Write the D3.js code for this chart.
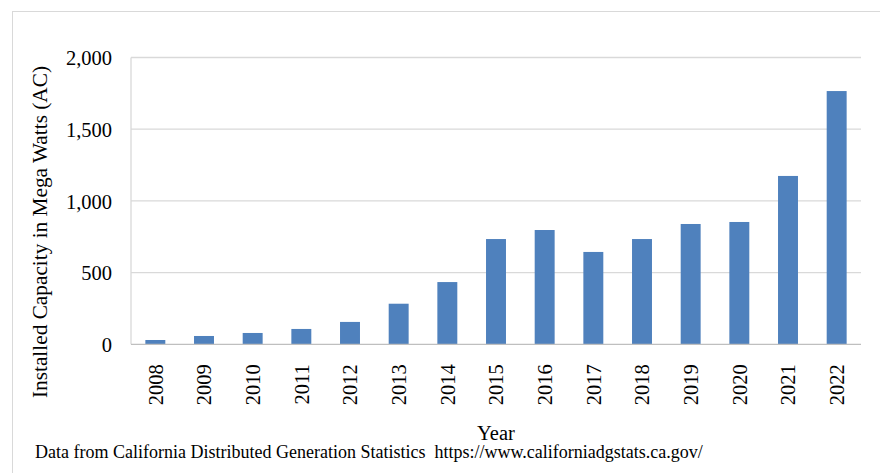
<!DOCTYPE html>
<html>
<head>
<meta charset="utf-8">
<script src="https://cdn.jsdelivr.net/npm/d3@7"></script>
<style>
  html, body { margin: 0; padding: 0; background: #fff; }
  svg { display: block; }
  svg text { font-family: "Liberation Serif", "Times New Roman", serif; }
</style>
</head>
<body>
<svg id="chart" width="880" height="473"></svg>
<script>
// Installed distributed solar capacity by year (MW AC)
const years = ["2008","2009","2010","2011","2012","2013","2014","2015","2016","2017","2018","2019","2020","2021","2022"];
const capacity = [30, 58, 79, 107, 156, 283, 434, 734, 797, 644, 734, 839, 853, 1174, 1766];
const yTicks = [0, 500, 1000, 1500, 2000];

const FONT = "Liberation Serif";
const svg = d3.select("#chart");
const margin = { left: 131, right: 19, top: 57.5, bottom: 128.7 };
const W = 880, H = 473;
const x0 = margin.left, x1 = W - margin.right;
const y0 = H - margin.bottom, y1 = margin.top;

// Chart frame
svg.append("rect")
  .attr("x", 12.5).attr("y", 11.5)
  .attr("width", 900).attr("height", 500)
  .attr("fill", "none").attr("stroke", "#d9d9d9").attr("stroke-width", 1);

const x = d3.scaleBand().domain(years).range([x0, x1]).paddingInner(0.59).paddingOuter(0.295);
const y = d3.scaleLinear().domain([0, 2000]).range([y0, y1]);

// Gridlines
svg.append("g")
  .selectAll("line")
  .data(yTicks.filter(d => d > 0))
  .join("line")
  .attr("x1", x0).attr("x2", x1)
  .attr("y1", d => y(d)).attr("y2", d => y(d))
  .attr("stroke", "#d9d9d9").attr("stroke-width", 1.3);

// Left axis line
svg.append("line")
  .attr("x1", x0).attr("x2", x0)
  .attr("y1", y1).attr("y2", y0)
  .attr("stroke", "#d9d9d9").attr("stroke-width", 1.3);

// Bars
svg.append("g")
  .selectAll("rect")
  .data(years.map((yr, i) => ({ yr, v: capacity[i] })))
  .join("rect")
  .attr("x", d => x(d.yr))
  .attr("width", x.bandwidth())
  .attr("y", d => y(d.v))
  .attr("height", d => y(0) - y(d.v))
  .attr("fill", "#4f81bd");

// Baseline
svg.append("line")
  .attr("x1", x0).attr("x2", x1)
  .attr("y1", y(0)).attr("y2", y(0))
  .attr("stroke", "#bfbfbf").attr("stroke-width", 1.3);

// Y axis labels
const yAxis = d3.axisLeft(y).tickValues(yTicks).tickFormat(d3.format(",")).tickSize(0).tickPadding(19);
const gy = svg.append("g").attr("transform", `translate(${x0},0)`).call(yAxis);
gy.select(".domain").remove();
gy.attr("font-family", FONT);
gy.selectAll("text")
  .attr("font-size", 20.5).attr("fill", "#000")
  .attr("dy", "0.35em");

// X axis labels, rotated
const xAxis = d3.axisBottom(x).tickSize(0).tickPadding(0);
const gx = svg.append("g").attr("transform", `translate(0,${y0})`).call(xAxis);
gx.select(".domain").remove();
gx.attr("font-family", FONT);
gx.selectAll("text")
  .attr("font-size", 20.5).attr("fill", "#000")
  .attr("text-anchor", "end")
  .attr("transform", "rotate(-90)")
  .attr("x", -20).attr("y", 0).attr("dy", "0.35em");

// Axis titles
svg.append("text")
  .attr("transform", "translate(47,232) rotate(-90)")
  .attr("text-anchor", "middle")
  .attr("font-family", FONT)
  .attr("font-size", 21.3).attr("fill", "#000")
  .text("Installed Capacity in Mega Watts (AC)");

svg.append("text")
  .attr("x", (x0 + x1) / 2).attr("y", 440)
  .attr("text-anchor", "middle")
  .attr("font-family", FONT)
  .attr("font-size", 20.5).attr("fill", "#000")
  .text("Year");

// Source note
svg.append("text")
  .attr("x", 35).attr("y", 458)
  .attr("font-family", FONT)
  .attr("font-size", 18).attr("fill", "#000")
  .style("white-space", "pre")
  .text("Data from California Distributed Generation Statistics  https://www.californiadgstats.ca.gov/");
</script>
</body>
</html>
